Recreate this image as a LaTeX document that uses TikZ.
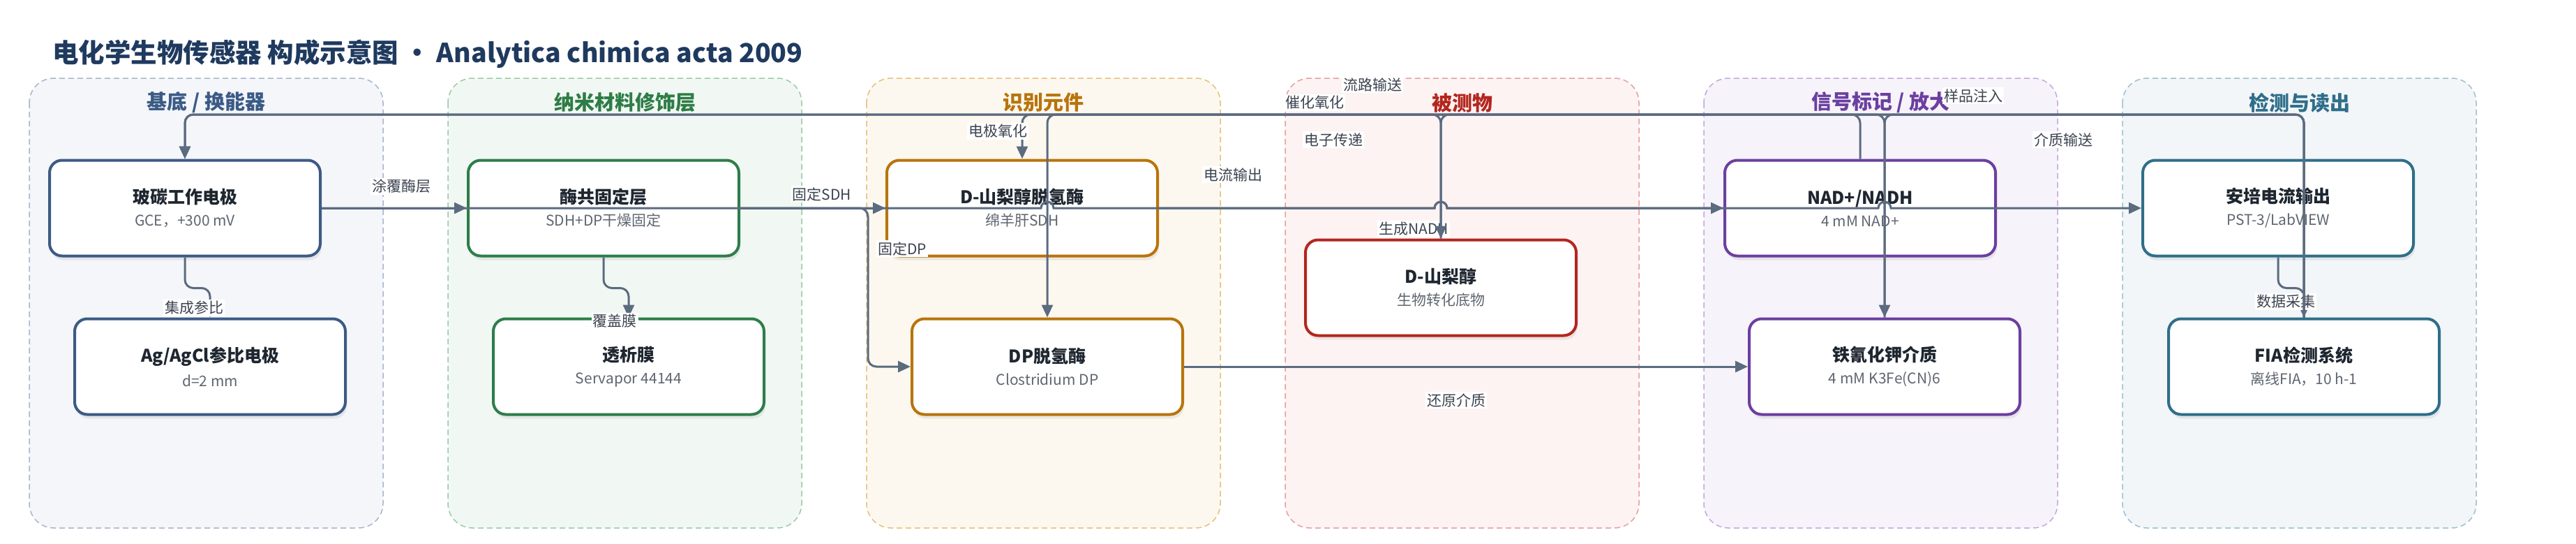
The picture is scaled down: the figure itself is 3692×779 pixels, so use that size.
\documentclass[tikz,border=0pt]{standalone}
\usepackage{fontspec}
\setmainfont{Noto Sans CJK SC}
\usetikzlibrary{arrows.meta,shadows,calc}
\definecolor{edgec}{HTML}{5B6B80}
\definecolor{titlec}{HTML}{1F3A5F}
\definecolor{ntc}{HTML}{1E2630}
\definecolor{nsc}{HTML}{5F6670}
\definecolor{lblc}{HTML}{3C4450}
\definecolor{b1}{HTML}{A8B5CC}\definecolor{f1}{HTML}{F4F6FA}\definecolor{t1}{HTML}{3B5B86}\definecolor{n1}{HTML}{3D5A85}
\definecolor{b2}{HTML}{9CC9A8}\definecolor{f2}{HTML}{F1F8F3}\definecolor{t2}{HTML}{2E7D46}\definecolor{n2}{HTML}{2E7D4A}
\definecolor{b3}{HTML}{E5C07A}\definecolor{f3}{HTML}{FDF8EF}\definecolor{t3}{HTML}{B8740C}\definecolor{n3}{HTML}{B8740C}
\definecolor{b4}{HTML}{E3A0A0}\definecolor{f4}{HTML}{FDF3F2}\definecolor{t4}{HTML}{B3261E}\definecolor{n4}{HTML}{B3261E}
\definecolor{b5}{HTML}{C3A8DE}\definecolor{f5}{HTML}{F6F3FA}\definecolor{t5}{HTML}{6B3FA0}\definecolor{n5}{HTML}{6B3FA0}
\definecolor{b6}{HTML}{9DC0CF}\definecolor{f6}{HTML}{F2F6F8}\definecolor{t6}{HTML}{2F6E8A}\definecolor{n6}{HTML}{2F6E8A}
\newcommand{\nt}[2]{{\fontsize{25}{25}\selectfont\bfseries\color{ntc}#1}\\[11pt]{\fontsize{21}{21}\selectfont\color{nsc}#2}}
\begin{document}
\begin{tikzpicture}[x=1pt,y=-1pt,
  panel/.style={line width=1.5pt, dash pattern=on 8pt off 5pt, rounded corners=35pt},
  ptitle/.style={font=\fontsize{29}{29}\selectfont\bfseries, inner sep=0pt},
  box/.style={line width=4pt, fill=white, rounded corners=18pt, minimum width=388pt, minimum height=137pt, align=center, inner sep=0pt, font=\fontsize{21}{21}\selectfont, drop shadow={shadow xshift=2pt, shadow yshift=-6pt, opacity=0.14}},
  e/.style={draw=edgec, line width=3pt, rounded corners=12pt},
  arr/.style={-{Triangle[length=18pt,width=16pt]}},
  lbl/.style={fill=white, inner sep=2pt, font=\fontsize{21}{21}\selectfont, text=lblc}]
\useasboundingbox (0,0) rectangle (3692,779);
% panels
\path[panel,draw=b1,fill=f1] (42,112) rectangle (549,756);
\path[panel,draw=b2,fill=f2] (642,112) rectangle (1149,756);
\path[panel,draw=b3,fill=f3] (1242,112) rectangle (1749,756);
\path[panel,draw=b4,fill=f4] (1842,112) rectangle (2349,756);
\path[panel,draw=b5,fill=f5] (2442,112) rectangle (2949,756);
\path[panel,draw=b6,fill=f6] (3042,112) rectangle (3549,756);
\node[ptitle,text=t1] (pt1) at (295.5,147) {基底 / 换能器};
\node[ptitle,text=t2] (pt2) at (895.5,147) {纳米材料修饰层};
\node[ptitle,text=t3] (pt3) at (1495.5,147) {识别元件};
\node[ptitle,text=t4] (pt4) at (2095.5,147) {被测物};
\node[ptitle,text=t5] (pt5) at (2695.5,147) {信号标记 / 放大};
\node[ptitle,text=t6] (pt6) at (3295.5,147) {检测与读出};
% title
\node[anchor=west, inner sep=0pt, font=\fontsize{37.5}{38}\selectfont\bfseries, text=titlec] (title) at (75,77) {电化学生物传感器 构成示意图 • Analytica chimica acta 2009};
% nodes
\node[box,draw=n1] (glass) at (265,298) {\nt{玻碳工作电极}{GCE，+300 mV}};
\node[box,draw=n1] (ref) at (301,525) {\nt{Ag/AgCl参比电极}{d=2 mm}};
\node[box,draw=n2] (enz) at (865,298) {\nt{酶共固定层}{SDH+DP干燥固定}};
\node[box,draw=n2] (mem) at (901,525) {\nt{透析膜}{Servapor 44144}};
\node[box,draw=n3] (sdh) at (1465,298) {\nt{D-山梨醇脱氢酶}{绵羊肝SDH}};
\node[box,draw=n3] (dp) at (1501,525) {\nt{DP脱氢酶}{Clostridium DP}};
\node[box,draw=n4] (sor) at (2065,412) {\nt{D-山梨醇}{生物转化底物}};
\node[box,draw=n5] (nad) at (2666,298) {\nt{NAD+/NADH}{4 mM NAD+}};
\node[box,draw=n5] (fec) at (2701,525) {\nt{铁氰化钾介质}{4 mM K3Fe(CN)6}};
\node[box,draw=n6] (amp) at (3265,298) {\nt{安培电流输出}{PST-3/LabVIEW}};
\node[box,draw=n6] (fia) at (3302,525) {\nt{FIA检测系统}{离线FIA，10 h-1}};
\coordinate (top) at (0,164);
% edges
\draw[e,arr] (glass.east) -- (enz.west);
\node[lbl] (l1) at (575,267) {涂覆酶层};
\draw[e,arr] (glass.south) -- ++(0,44) -| (ref.north);
\node[lbl] (l2) at (278,441) {集成参比};
\draw[e,arr] (enz.south) -- ++(0,44) -| (mem.north);
\node[lbl] (l3) at (881,460) {覆盖膜};
\draw[e,arr] (enz.east) -- (sdh.west);
\node[lbl] (l4) at (1178,278) {固定SDH};
\draw[e,arr] (enz.east) -- ++(183,0) |- (dp.west);
\node[lbl] (l5) at (1293,356) {固定DP};
\draw[e,arr,sharp corners] (glass.east) -- ($(dp.north |- glass.east)+(-9,0)$) arc[start angle=180,end angle=360,radius=9]
  -- ($(sor.north |- glass.east)+(-9,0)$) arc[start angle=180,end angle=360,radius=9]
  -- ($(fec.north |- glass.east)+(-9,0)$) arc[start angle=180,end angle=360,radius=9]
  -- (amp.west);
\node[lbl] (l6) at (1767,250) {电流输出};
\draw[e,arr,sharp corners] (sdh.east) -- ($(sor.north |- sdh.east)+(-9,0)$) arc[start angle=180,end angle=360,radius=9] -- (nad.west);
\node[lbl] (l7) at (2026,328) {生成NADH};
\draw[e,arr] (dp.east) -- (fec.west);
\node[lbl] (l8) at (2087,573) {还原介质};
\draw[e,arr] (amp.south) -- ++(0,44) -| (fia.north);
\node[lbl] (l9) at (3276,432) {数据采集};
% top-line edges
\draw[e,arr] (fec.north) -- (fec.north |- top) -- (glass.north |- top) -- (glass.north);
\draw[e,arr] (fia.north) -- (fia.north |- top) -- (glass.north |- top) -- (glass.north);
\node[lbl] (l10) at (1967,121) {流路输送};
\draw[e,arr] (sor.north) -- (sor.north |- top) -- (sdh.north |- top) -- (sdh.north);
\node[lbl] (l11) at (1884,147) {催化氧化};
\draw[e,arr] (nad.north) -- (nad.north |- top) -- (dp.north |- top) -- (dp.north);
\node[lbl] (l12) at (1911,200) {电子传递};
\draw[e,arr] (fia.north) -- (fia.north |- top) -- (sor.north |- top) -- (sor.north);
\node[lbl] (l13) at (2828,137) {样品注入};
\draw[e,arr] (fia.north) -- (fia.north |- top) -- (fec.north |- top) -- (fec.north);
\node[lbl] (l14) at (2957,200) {介质输送};
\node[lbl] (l15) at (1430,188) {电极氧化};
\end{tikzpicture}
\end{document}
